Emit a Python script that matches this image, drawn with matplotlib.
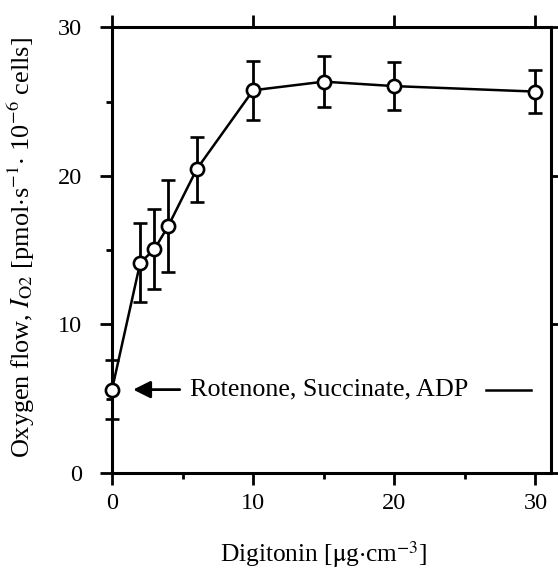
import matplotlib
matplotlib.use("Agg")
import matplotlib.pyplot as plt
from matplotlib.ticker import MultipleLocator

plt.rcParams['font.family'] = ['Liberation Serif', 'DejaVu Serif']
plt.rcParams['mathtext.fontset'] = 'stix'

digitonin = [0, 2, 3, 4, 6, 10, 15, 20, 30]
oxygen_flow = [5.6, 14.15, 15.05, 16.65, 20.45, 25.77, 26.35, 26.05, 25.68]
sd = [2.0, 2.65, 2.7, 3.1, 2.2, 2.0, 1.7, 1.6, 1.43]

fig = plt.figure(figsize=(5.58, 5.69), dpi=100)
ax = fig.add_axes([0.2007, 0.1692, 0.7868, 0.7825])

ax.errorbar(digitonin, oxygen_flow, yerr=sd, color='black', lw=1.8,
            elinewidth=2.0, capsize=5, capthick=2.2,
            marker='o', ms=9.5, mfc='white', mec='black', mew=1.9,
            zorder=3, clip_on=False)

ax.set_xlim(0, 31.1)
ax.set_ylim(0, 30)
ax.xaxis.set_major_locator(MultipleLocator(10))
ax.xaxis.set_minor_locator(MultipleLocator(5))
ax.yaxis.set_major_locator(MultipleLocator(10))
ax.yaxis.set_minor_locator(MultipleLocator(5))

for s in ax.spines.values():
    s.set_linewidth(2.2)

ax.tick_params(which='major', direction='out', length=8.5, width=2.0,
               top=True, right=True, labelsize=17.5, pad=6)
ax.tick_params(axis='y', which='major', pad=13)
ax.tick_params(which='minor', direction='out', length=4.5, width=2.0,
               top=False, right=False)

ax.set_xlabel(r"Digitonin [$\mathrm{\mu}$g$\cdot$cm$^{\mathrm{-3}}$]", fontsize=18.3)
ax.xaxis.set_label_coords(0.483, -0.148)
ax.set_ylabel(r"Oxygen flow, $I_{\mathrm{O2}}$ [pmol$\cdot$s$^{\mathrm{-1}}$$\cdot$ 10$^{\mathrm{-6}}$ cells]",
              fontsize=18.9)
ax.yaxis.set_label_coords(-0.17, 0.505)

ax.annotate("", xy=(1.5, 5.6), xytext=(4.8, 5.6),
            arrowprops=dict(arrowstyle='-|>', color='black', lw=2,
                            mutation_scale=26, shrinkA=0, shrinkB=0))
ax.text(5.5, 5.6, "Rotenone, Succinate, ADP", fontsize=18.8,
        va='center', ha='left')
ax.plot([26.5, 29.7], [5.6, 5.6], color='black', lw=1.8)

fig.savefig("out.png", dpi=100)
